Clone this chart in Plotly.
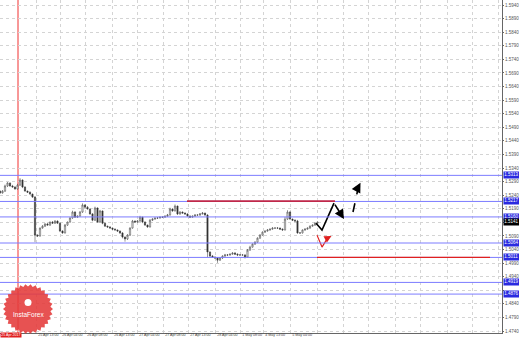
import math
import plotly.graph_objects as go

# ---------------- data ----------------
first_open = 1.5255
close = [
    1.5248, 1.5255, 1.5274, 1.5285, 1.5274, 1.5270, 1.5263, 1.5277, 1.5296, 1.5270,
    1.5255, 1.5251, 1.5244, 1.5233, 1.5093, 1.5090, 1.5119, 1.5126, 1.5134, 1.5130,
    1.5141, 1.5137, 1.5145, 1.5137, 1.5108, 1.5101, 1.5130, 1.5141, 1.5156, 1.5178,
    1.5159, 1.5163, 1.5178, 1.5204, 1.5196, 1.5189, 1.5171, 1.5148, 1.5193, 1.5141,
    1.5182, 1.5137, 1.5126, 1.5123, 1.5119, 1.5115, 1.5112, 1.5108, 1.5101, 1.5086,
    1.5079, 1.5093, 1.5119, 1.5145, 1.5141, 1.5145, 1.5159, 1.5141, 1.5130, 1.5123,
    1.5148, 1.5152, 1.5156, 1.5156, 1.5159, 1.5159, 1.5163, 1.5167, 1.5189, 1.5182,
    1.5200, 1.5171, 1.5178, 1.5174, 1.5171, 1.5163, 1.5159, 1.5163, 1.5167, 1.5167,
    1.5171, 1.5174, 1.5167, 1.5031, 1.5016, 1.5012, 1.5009, 1.5001, 1.5009, 1.5016,
    1.5020, 1.5020, 1.5023, 1.5027, 1.5023, 1.5020, 1.5020, 1.5020, 1.5012, 1.5038,
    1.5049, 1.5060, 1.5067, 1.5082, 1.5093, 1.5104, 1.5108, 1.5112, 1.5115, 1.5119,
    1.5119, 1.5119, 1.5115, 1.5112, 1.5152, 1.5178, 1.5152, 1.5148, 1.5145, 1.5101,
    1.5101, 1.5112, 1.5115, 1.5119, 1.5126, 1.5130, 1.5137, 1.5141,
]
wick_hi_pips = [
    3, 4, 5, 3, 2, 4, 3, 5, 7, 2,
    3, 2, 3, 2, 4, 3, 2, 4, 3, 5,
    2, 4, 3, 2, 3, 3, 4, 2, 3, 5,
    3, 2, 4, 6, 3, 4, 2, 3, 5, 2,
    4, 2, 3, 2, 3, 2, 3, 2, 2, 3,
    2, 4, 3, 4, 2, 3, 5, 2, 3, 2,
    4, 3, 2, 3, 2, 3, 2, 4, 5, 3,
    6, 2, 3, 2, 3, 2, 3, 2, 3, 2,
    3, 4, 2, 3, 2, 4, 3, 2, 3, 3,
    4, 3, 2, 3, 4, 3, 3, 2, 3, 4,
    5, 3, 4, 3, 4, 3, 2, 3, 2, 3,
    2, 3, 2, 3, 8, 7, 3, 2, 3, 4,
    3, 2, 3, 2, 3, 2, 3, 2,
]
wick_lo_pips = [
    3, 2, 3, 4, 3, 2, 3, 2, 3, 4,
    2, 3, 2, 3, 26, 4, 3, 2, 3, 2,
    3, 2, 3, 2, 4, 3, 2, 3, 2, 3,
    2, 3, 2, 3, 4, 2, 3, 4, 3, 2,
    3, 4, 2, 3, 2, 3, 2, 3, 4, 5,
    10, 4, 3, 2, 3, 2, 3, 4, 3, 3,
    2, 3, 2, 3, 2, 3, 2, 3, 2, 3,
    2, 4, 3, 2, 3, 2, 3, 2, 3, 2,
    3, 2, 3, 20, 4, 3, 4, 10, 3, 4,
    3, 4, 3, 2, 3, 4, 3, 2, 5, 3,
    3, 2, 3, 2, 3, 2, 3, 2, 3, 2,
    2, 3, 2, 3, 2, 3, 2, 3, 4, 3,
    3, 2, 3, 2, 3, 2, 3, 2,
]

level_lines = [1.5313, 1.5217, 1.5160, 1.5064, 1.5011, 1.4919, 1.4876]
red_upper = dict(x0=74.8, x1=134.0, y=1.5218)
red_lower = dict(x0=126.8, x1=196.0, y=1.5011)
vline_x = 7.2

zigzag_x = [126.4, 128.8, 133.6]
zigzag_y = [1.5137, 1.5112, 1.5211]
zigzag_head = (137.6, 1.5152)
dash_x = [141.2, 143.4]
dash_y = [1.5178, 1.5272]
dash_head = (144.2, 1.5286)
red_arrow_x = [126.8, 128.8, 131.0]
red_arrow_y = [1.5093, 1.5049, 1.5082]
red_arrow_head = (132.6, 1.5090)

y_ticks = [1.5940, 1.5890, 1.5840, 1.5790, 1.5740, 1.5690, 1.5640, 1.5590, 1.5540,
           1.5490, 1.5440, 1.5390, 1.5340, 1.5290, 1.5240, 1.5190, 1.5140, 1.5090,
           1.5040, 1.4990, 1.4940, 1.4890, 1.4840, 1.4790, 1.4740]
x_grid = [14.4, 24.0, 34.0, 44.8, 54.8, 65.2, 75.2, 86.0, 96.0, 105.2, 116.0,
          126.8, 137.2, 147.2, 158.0, 168.0, 178.8, 188.8, 199.2]
x_labels = ["25 Apr 13:00", "26 Apr 04:00", "26 Apr 08:00", "26 Apr 13:00",
            "27 Apr 04:00", "27 Apr 08:00", "27 Apr 13:00", "28 Apr 04:00",
            "1 May 08:00", "4 May 13:00", "5 May 04:00"]
marker_label = "25 Apr 2017"

# ---------------- build ----------------
x = list(range(len(close)))
opens = [first_open] + close[:-1]
high = [max(o, c) + h * 0.0001 for o, c, h in zip(opens, close, wick_hi_pips)]
low = [min(o, c) - l * 0.0001 for o, c, l in zip(opens, close, wick_lo_pips)]

W, H = 519, 338
ML, MR, MT, MB = 0, 17, 0, 5
PW, PH = W - ML - MR, H - MT - MB
XR = [0, PW / 2.5]
YR = [1.47328, 1.59584]
FONT = "Liberation Sans"

boxed = level_lines + [close[-1]]
y_text = ["" if any(abs(v - b) < 0.0016 for b in boxed) else f"{v:.4f}" for v in y_ticks]

fig = go.Figure()
fig.add_trace(go.Candlestick(
    x=x, open=opens, high=high, low=low, close=close,
    increasing=dict(line=dict(color="#333", width=0.5), fillcolor="white"),
    decreasing=dict(line=dict(color="#333", width=0.5), fillcolor="#333"),
    whiskerwidth=0, showlegend=False, hoverinfo="skip",
))

shapes = []
shapes.append(dict(type="line", xref="x", yref="paper", x0=vline_x, x1=vline_x,
                   y0=0, y1=1, line=dict(color="#f03030", width=1), layer="below"))
for lv in level_lines:
    shapes.append(dict(type="line", xref="paper", yref="y", x0=0, x1=1, y0=lv, y1=lv,
                       line=dict(color="#7c7cff", width=1)))
shapes.append(dict(type="line", xref="x", yref="y", x0=red_upper["x0"], x1=red_upper["x1"],
                   y0=red_upper["y"], y1=red_upper["y"],
                   line=dict(color="#c0284a", width=1.8)))
shapes.append(dict(type="line", xref="x", yref="y", x0=red_lower["x0"], x1=red_lower["x1"],
                   y0=red_lower["y"], y1=red_lower["y"],
                   line=dict(color="#e02020", width=1.4)))

# logo badge (starburst)
cx, cy, R, r, n = 28, 309, 25, 22.5, 30
pts = []
for k in range(2 * n):
    ang = math.pi * k / n
    rr = R if k % 2 == 0 else r
    px = cx + rr * math.cos(ang)
    py = cy + rr * math.sin(ang)
    pts.append((px / PW, 1 - py / PH))
path = "M " + " L ".join(f"{a:.5f},{b:.5f}" for a, b in pts) + " Z"
shapes.append(dict(type="path", xref="paper", yref="paper", path=path,
                   fillcolor="#e43a3a", line=dict(width=0), opacity=0.88, layer="above"))
shapes.append(dict(type="circle", xref="paper", yref="paper",
                   x0=(cx - 3.5) / PW, x1=(cx + 3.5) / PW, y0=1 - (cy - 3) / PH, y1=1 - (cy - 10) / PH,
                   fillcolor="white", line=dict(width=0), layer="above"))

# arrows
fig.add_trace(go.Scatter(x=zigzag_x, y=zigzag_y, mode="lines",
                         line=dict(color="black", width=1.6), showlegend=False, hoverinfo="skip"))
fig.add_trace(go.Scatter(x=dash_x, y=dash_y, mode="lines",
                         line=dict(color="black", width=1.6, dash="dash"), showlegend=False, hoverinfo="skip"))
fig.add_trace(go.Scatter(x=red_arrow_x, y=red_arrow_y, mode="lines",
                         line=dict(color="#e02020", width=1.2), showlegend=False, hoverinfo="skip"))

ann = []
ann.append(dict(x=zigzag_head[0], y=zigzag_head[1], ax=zigzag_x[-1], ay=zigzag_y[-1],
                xref="x", yref="y", axref="x", ayref="y", text="", showarrow=True,
                arrowhead=2, arrowsize=1.2, arrowwidth=1.6, arrowcolor="black"))
ann.append(dict(x=dash_head[0], y=dash_head[1], ax=dash_x[-1], ay=dash_y[-1],
                xref="x", yref="y", axref="x", ayref="y", text="", showarrow=True,
                arrowhead=2, arrowsize=1.2, arrowwidth=1.6, arrowcolor="black"))
ann.append(dict(x=red_arrow_head[0], y=red_arrow_head[1], ax=red_arrow_x[-1], ay=red_arrow_y[-1],
                xref="x", yref="y", axref="x", ayref="y", text="", showarrow=True,
                arrowhead=2, arrowsize=1.2, arrowwidth=1.2, arrowcolor="#e02020"))

for lv in level_lines:
    ann.append(dict(x=1, y=lv, xref="paper", yref="y", xanchor="left", xshift=1,
                    text=f"{lv:.4f}", showarrow=False, bgcolor="#2a2ae0", borderpad=0.3,
                    font=dict(size=4.5, color="white", family=FONT)))
ann.append(dict(x=1, y=close[-1], xref="paper", yref="y", xanchor="left", xshift=1,
                text=f"{close[-1]:.4f}", showarrow=False, bgcolor="black", borderpad=0.3,
                font=dict(size=4.5, color="white", family=FONT)))
ann.append(dict(x=0, y=0, xref="paper", yref="paper", xanchor="left", yanchor="bottom", yshift=-5,
                text=marker_label, showarrow=False, bgcolor="#e02020", borderpad=0.2,
                font=dict(size=3.6, color="white", family=FONT)))
for gx, lab in zip(x_grid, x_labels):
    ann.append(dict(x=gx, y=0, xref="x", yref="paper", xanchor="left", yanchor="bottom",
                    yshift=-5, xshift=0.5, text=lab, showarrow=False, borderpad=0.2,
                    font=dict(size=3.6, color="#444", family=FONT)))
ann.append(dict(x=cx / PW, y=1 - 314 / PH, xref="paper", yref="paper",
                xanchor="center", yanchor="middle",
                text="InstaForex", showarrow=False,
                font=dict(size=6.5, color="white", family=FONT)))

fig.update_layout(
    width=W, height=H, autosize=False,
    margin=dict(l=ML, r=MR, t=MT, b=MB, pad=0),
    paper_bgcolor="white", plot_bgcolor="white",
    shapes=shapes, annotations=ann,
    font=dict(family=FONT, size=4.5, color="#444"),
    xaxis=dict(range=XR, rangeslider=dict(visible=False), showgrid=True,
               gridcolor="#d4d4d4", griddash="dot", gridwidth=1,
               tickmode="array", tickvals=x_grid, showticklabels=False,
               ticks="", showline=True, linecolor="#666", linewidth=1,
               zeroline=False, automargin=False),
    yaxis=dict(range=YR, side="right", showgrid=True, gridcolor="#d4d4d4",
               griddash="dot", gridwidth=1, tickmode="array", tickvals=y_ticks,
               ticktext=y_text, ticks="outside", ticklen=1,
               tickcolor="#666", showline=True, linecolor="#666", linewidth=1,
               zeroline=False, automargin=False, tickfont=dict(size=4.5, color="#555", family=FONT)),
)

fig.write_html("out.html")
